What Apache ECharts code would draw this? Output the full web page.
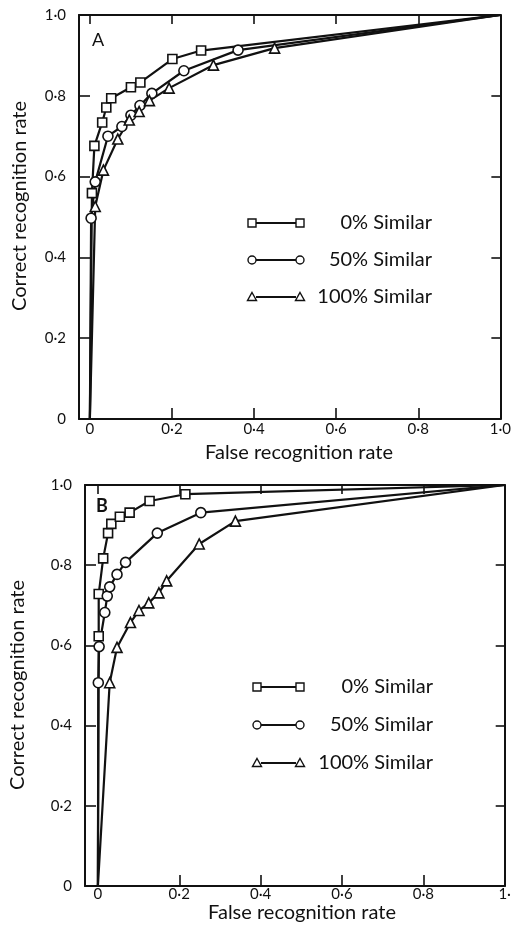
<!DOCTYPE html>
<html>
<head>
<meta charset="utf-8">
<script src="https://cdn.jsdelivr.net/npm/echarts@6/dist/echarts.min.js"></script>
<style>
html,body{margin:0;padding:0;background:#fff;}
#c{width:514px;height:932px;}
</style>
</head>
<body>
<div id="c"></div>
<script>
// ---- Data ----
const xTicks = [0, 0.2, 0.4, 0.6, 0.8, 1.0];
const yTicks = [0, 0.2, 0.4, 0.6, 0.8, 1.0];
const seriesNames = ['0% Similar', '50% Similar', '100% Similar'];
const xTitle = 'False recognition rate';
const yTitle = 'Correct recognition rate';
const ORIGIN = [0, 0];
const CORNER = [1, 1];

// Panel A
const A_sq_x  = [0.005, 0.011, 0.030, 0.040, 0.052, 0.100, 0.123, 0.201, 0.271];
const A_sq_y  = [0.559, 0.676, 0.734, 0.771, 0.794, 0.821, 0.833, 0.891, 0.912];
const A_ci_x  = [0.003, 0.013, 0.044, 0.078, 0.100, 0.122, 0.151, 0.229, 0.361];
const A_ci_y  = [0.497, 0.587, 0.700, 0.724, 0.752, 0.776, 0.806, 0.862, 0.913];
const A_tr_x  = [0.013, 0.033, 0.068, 0.096, 0.120, 0.145, 0.193, 0.301, 0.450];
const A_tr_y  = [0.526, 0.616, 0.693, 0.740, 0.761, 0.788, 0.819, 0.876, 0.918];

// Panel B
const B_sq_x  = [0.002, 0.002, 0.013, 0.025, 0.033, 0.054, 0.078, 0.127, 0.215];
const B_sq_y  = [0.623, 0.728, 0.817, 0.880, 0.903, 0.921, 0.931, 0.960, 0.977];
const B_ci_x  = [0.001, 0.003, 0.017, 0.023, 0.029, 0.047, 0.068, 0.146, 0.253];
const B_ci_y  = [0.507, 0.597, 0.682, 0.723, 0.746, 0.777, 0.807, 0.880, 0.931];
const B_tr_x  = [0.029, 0.047, 0.080, 0.101, 0.125, 0.150, 0.169, 0.249, 0.338];
const B_tr_y  = [0.507, 0.595, 0.657, 0.687, 0.706, 0.731, 0.761, 0.853, 0.910];

const FONT = 'Lato';
const fmt = v => (v === 0 ? '0' : v.toFixed(1).replace('.', '\u00B7'));

function pts(xs, ys) {
  const d = [{ value: ORIGIN, symbol: 'none' }];
  xs.forEach((x, i) => d.push({ value: [x, ys[i]] }));
  d.push({ value: CORNER, symbol: 'none' });
  return d;
}

const symbols = ['rect', 'circle', 'triangle'];
const symSizes = [9, 10, 10];

function mkSeries(grid, list) {
  return list.map((p, i) => ({
    type: 'line',
    name: seriesNames[i],
    xAxisIndex: grid * 2,
    yAxisIndex: grid * 2,
    data: pts(p[0], p[1]),
    symbol: symbols[i],
    symbolSize: symSizes[i],
    showAllSymbol: true,
    lineStyle: { color: '#111', width: 2.2 },
    itemStyle: { color: '#fff', borderColor: '#111', borderWidth: 1.6 },
    emphasis: { disabled: true },
    animation: false,
    z: 3
  }));
}

const axisLineStyle = { color: '#111', width: 2 };

function mkX(grid, min, lastLabel, margin) {
  return [
    {
      type: 'value', gridIndex: grid, min: min, max: 1, position: 'bottom',
      axisLine: { show: true, onZero: false, lineStyle: axisLineStyle },
      axisTick: { show: true, inside: true, length: 11, customValues: xTicks, lineStyle: { color: '#111', width: 1.6 } },
      axisLabel: { show: true, customValues: xTicks, margin: margin, color: '#111', fontSize: 15, fontFamily: FONT,
        formatter: v => (Math.abs(v - 1) < 1e-9 ? lastLabel : fmt(v)) },
      splitLine: { show: false }
    },
    {
      type: 'value', gridIndex: grid, min: min, max: 1, position: 'top',
      axisLine: { show: true, onZero: false, lineStyle: axisLineStyle },
      axisTick: { show: true, inside: true, length: 9, customValues: xTicks.slice(0, 5), lineStyle: { color: '#111', width: 1.6 } },
      axisLabel: { show: false },
      splitLine: { show: false }
    }
  ];
}

function mkY(grid) {
  return [
    {
      type: 'value', gridIndex: grid, min: 0, max: 1, position: 'left',
      axisLine: { show: true, onZero: false, lineStyle: axisLineStyle },
      axisTick: { show: true, inside: true, length: 11, customValues: yTicks, lineStyle: { color: '#111', width: 1.6 } },
      axisLabel: { show: true, customValues: yTicks, margin: 13, color: '#111', fontSize: 15, fontFamily: FONT, formatter: fmt },
      splitLine: { show: false }
    },
    {
      type: 'value', gridIndex: grid, min: 0, max: 1, position: 'right',
      axisLine: { show: true, onZero: false, lineStyle: axisLineStyle },
      axisTick: { show: true, inside: true, length: 9, customValues: yTicks.slice(1, 5), lineStyle: { color: '#111', width: 1.6 } },
      axisLabel: { show: false },
      splitLine: { show: false }
    }
  ];
}

// legend glyphs (decoration)
function legendRows(x1, x2, textRight, ys) {
  const g = [];
  const shapes = [
    (cx, cy) => ({ type: 'rect', shape: { x: cx - 4, y: cy - 4, width: 8, height: 8 } }),
    (cx, cy) => ({ type: 'circle', shape: { cx: cx, cy: cy, r: 4 } }),
    (cx, cy) => ({ type: 'polygon', shape: { points: [[cx, cy - 4.5], [cx + 4.5, cy + 3.5], [cx - 4.5, cy + 3.5]] } })
  ];
  ys.forEach((y, i) => {
    g.push({ type: 'line', shape: { x1: x1 + 4, y1: y, x2: x2 - 4, y2: y }, style: { stroke: '#111', lineWidth: 2 }, z: 10 });
    [x1, x2].forEach(cx => {
      const s = shapes[i](cx, y);
      s.style = { fill: '#fff', stroke: '#111', lineWidth: 1.4 };
      s.z = 11;
      g.push(s);
    });
    g.push({ type: 'text', x: textRight, y: y, style: { text: seriesNames[i], fill: '#111', font: '20px ' + FONT, align: 'right', verticalAlign: 'middle' }, z: 11 });
  });
  return g;
}

function titles(xcx, xcy, ycx, ycy) {
  return [
    { type: 'text', x: xcx, y: xcy, style: { text: xTitle, fill: '#111', font: '20px ' + FONT, align: 'center', verticalAlign: 'middle' } },
    { type: 'text', x: ycx, y: ycy, rotation: Math.PI / 2, style: { text: yTitle, fill: '#111', font: '20px ' + FONT, align: 'center', verticalAlign: 'middle' } }
  ];
}

const chart = echarts.init(document.getElementById('c'), null, { renderer: 'canvas' });
chart.setOption({
  backgroundColor: '#fff',
  animation: false,
  grid: [
    { left: 79, top: 15, width: 426, height: 404 },
    { left: 85, top: 485, width: 423, height: 401 }
  ],
  xAxis: [].concat(mkX(0, -0.0265, '1\u00B70', 3), mkX(1, -0.0317, '1\u00B7', 1)),
  yAxis: [].concat(mkY(0), mkY(1)),
  series: [].concat(
    mkSeries(0, [[A_sq_x, A_sq_y], [A_ci_x, A_ci_y], [A_tr_x, A_tr_y]]),
    mkSeries(1, [[B_sq_x, B_sq_y], [B_ci_x, B_ci_y], [B_tr_x, B_tr_y]])
  ),
  graphic: [].concat(
    [
      { type: 'text', x: 92, y: 31, style: { text: 'A', fill: '#111', font: '18px ' + FONT } },
      { type: 'text', x: 96, y: 497, style: { text: 'B', fill: '#111', font: 'bold 18px ' + FONT } }
    ],
    titles(299, 453, 20, 206),
    titles(302, 913, 18, 685),
    legendRows(252, 300, 432, [223, 260, 297]),
    legendRows(257, 300, 433, [687, 725, 763])
  )
});
</script>
</body>
</html>
